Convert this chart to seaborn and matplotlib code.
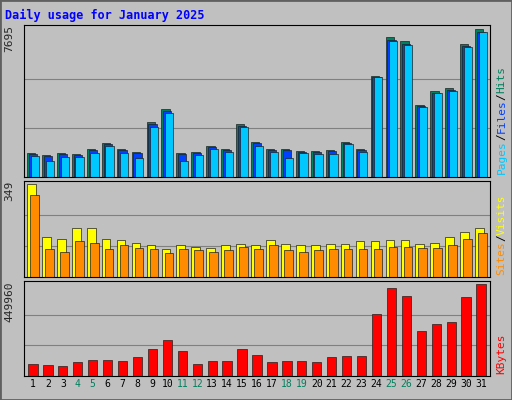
import numpy as np
import pandas as pd
import matplotlib
matplotlib.use("Agg")
import matplotlib.pyplot as plt
import seaborn as sns

sns.set_style("white")
plt.rcParams["font.family"] = ["DejaVu Sans Mono"]

days = list(range(1, 32))
weekend = [4, 5, 11, 12, 18, 19, 25, 26]
hits = [1256, 1150, 1256, 1200, 1465, 1780, 1465, 1310, 2880, 3560, 1256, 1310, 1620, 1465, 2775, 1830,
        1465, 1465, 1360, 1360, 1410, 1830, 1465, 5290, 7280, 7070, 3770, 4500, 4660, 6960, 7695]
files = [1200, 1100, 1200, 1150, 1400, 1720, 1400, 1250, 2780, 3450, 1200, 1250, 1560, 1410, 2680, 1760,
         1410, 1410, 1310, 1310, 1360, 1770, 1410, 5200, 7120, 6950, 3680, 4400, 4560, 6820, 7560]
pages = [1100, 850, 1050, 1050, 1250, 1600, 1250, 1000, 2600, 3350, 850, 1150, 1450, 1300, 2600, 1600,
         1300, 1000, 1250, 1200, 1200, 1700, 1300, 5200, 7100, 6900, 3650, 4400, 4500, 6800, 7550]
visits = [349, 148, 144, 182, 182, 144, 137, 129, 118, 106, 121, 114, 110, 118, 125, 121,
          140, 125, 121, 118, 125, 125, 133, 133, 140, 137, 125, 129, 148, 167, 182]
sites = [307, 106, 95, 133, 129, 106, 118, 110, 106, 91, 106, 102, 95, 102, 114, 106,
         118, 102, 95, 102, 106, 106, 106, 106, 114, 114, 110, 110, 121, 144, 163]
kbytes = [58700, 53800, 48900, 68500, 78200, 78200, 73400, 92900, 132000, 176000, 122000, 58700, 73400,
          73400, 132000, 103000, 68500, 73400, 73400, 68500, 92900, 97800, 97800, 303000, 430000,
          391000, 220000, 254000, 264000, 386000, 449960]

bg = "#C0C0C0"
fig = plt.figure(figsize=(5.12, 4.0), dpi=100, facecolor=bg)
fig.patches.append(plt.Rectangle((0, 0), 1, 1, transform=fig.transFigure, fill=False,
                                 edgecolor="#606060", linewidth=2))
fig.text(5 / 512, 1 - 15 / 400, "Daily usage for January 2025", color="#0000FF",
         fontsize=8.5, fontweight="bold", va="center")

L, W = 24 / 512, 466 / 512
ax1 = fig.add_axes([L, 1 - 177 / 400, W, 152 / 400])
ax2 = fig.add_axes([L, 1 - 277 / 400, W, 96 / 400])
ax3 = fig.add_axes([L, 1 - 376 / 400, W, 95 / 400])


def bars(ax, vals, color, off, width):
    df = pd.DataFrame({"day": np.array(days) + off, "v": vals})
    sns.barplot(data=df, x="day", y="v", native_scale=True, color=color, width=width,
                edgecolor="#202020", linewidth=0.5, saturation=1, ax=ax)


bars(ax1, hits, "#00805C", -0.12, 0.55)
bars(ax1, files, "#0040FF", 0.0, 0.55)
bars(ax1, pages, "#00C8FF", 0.12, 0.55)
bars(ax2, visits, "#FFFF00", -0.1, 0.58)
bars(ax2, sites, "#FF8C00", 0.1, 0.58)
bars(ax3, kbytes, "#FF0000", 0.0, 0.62)

for ax, mx, lab in [(ax1, max(hits), "7695"), (ax2, max(visits), "349"), (ax3, max(kbytes), "449960")]:
    ax.set_facecolor(bg)
    ax.set_xlim(0.4, 31.6)
    ax.set_ylim(0, mx * 1.03)
    ax.set_xlabel("")
    ax.set_ylabel("")
    ax.set_yticks([])
    for g in (mx / 3, 2 * mx / 3):
        ax.axhline(g, color="#808080", linewidth=0.8, zorder=0)
    ax.set_axisbelow(True)
    for s in ax.spines.values():
        s.set_color("#000000")
        s.set_linewidth(0.8)
    ax.text(-0.02, 1.0, lab, transform=ax.transAxes, rotation=90, ha="right", va="top", fontsize=8)

ax1.set_xticks([])
ax2.set_xticks([])
ax3.set_xticks(days)
ax3.set_xticklabels([str(d) for d in days], fontsize=7)
ax3.tick_params(axis="x", length=0, pad=2)
for t, d in zip(ax3.get_xticklabels(), days):
    t.set_color("#00805C" if d in weekend else "#000000")


def side_label(ax, parts):
    y = 0.02
    for txt, col in parts:
        t = ax.text(1.025, y, txt, transform=ax.transAxes, rotation=90, ha="center",
                    va="bottom", fontsize=8, color=col)
        fig.canvas.draw()
        bb = t.get_window_extent().transformed(ax.transAxes.inverted())
        y = bb.y1


side_label(ax1, [("Pages", "#00C8FF"), ("/", "#000000"), ("Files", "#0040FF"),
                 ("/", "#000000"), ("Hits", "#00805C")])
side_label(ax2, [("Sites", "#FF8C00"), ("/", "#000000"), ("Visits", "#FFFF00")])
side_label(ax3, [("KBytes", "#FF0000")])

fig.savefig("out.png", dpi=100, facecolor=bg)
